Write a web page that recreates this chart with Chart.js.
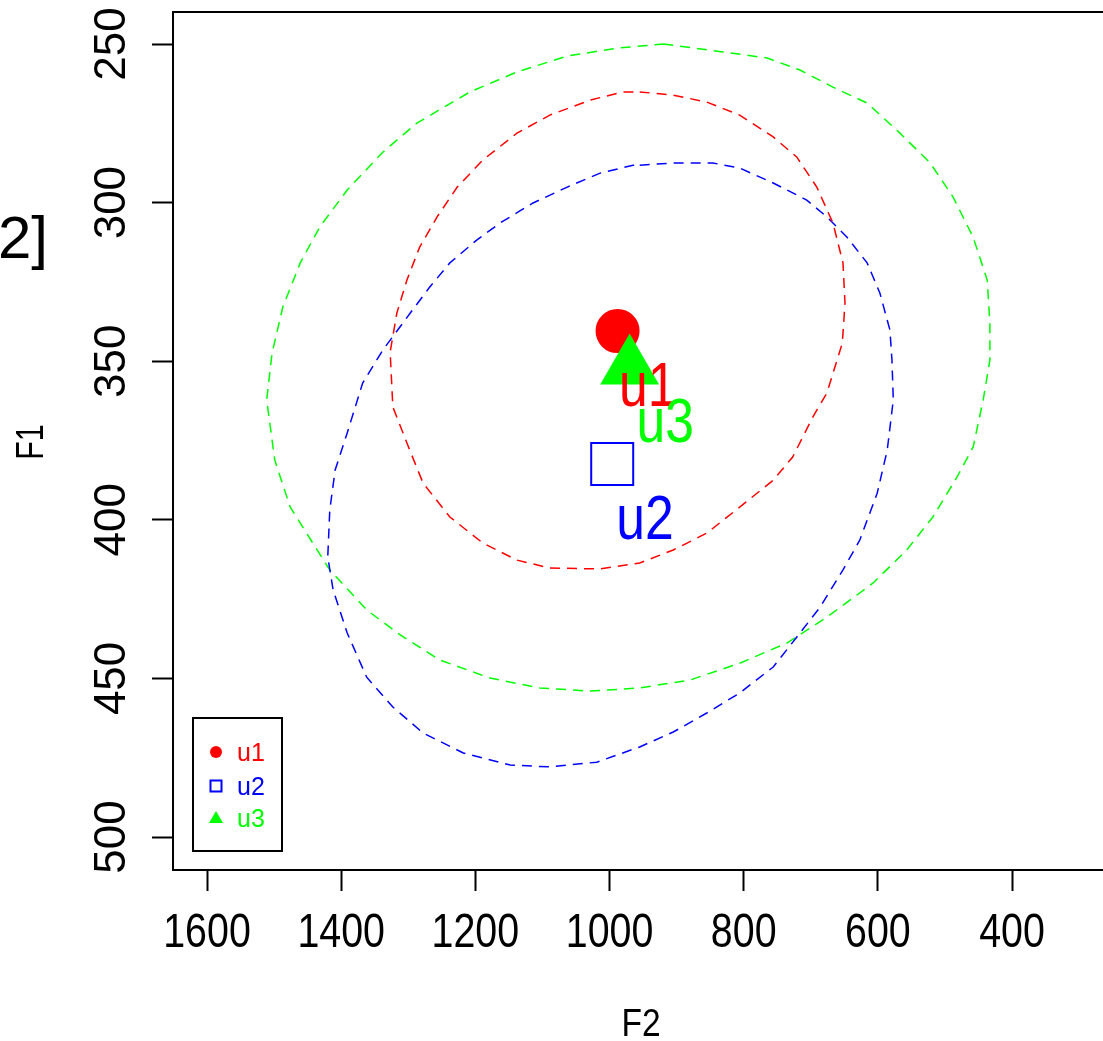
<!DOCTYPE html>
<html>
<head>
<meta charset="utf-8">
<script src="https://cdn.jsdelivr.net/npm/chart.js@4.4.1/dist/chart.umd.min.js"></script>
<style>
html, body { margin: 0; padding: 0; background: #fff; overflow: hidden; }
canvas { display: block; }
</style>
</head>
<body>
<canvas id="vowelChart" width="1103" height="1041"></canvas>
<script>
// group names and colours
var groups = ['u1', 'u2', 'u3'];
var colors = ['#FF0000', '#0000FF', '#00FF00'];

// group means (F2, F1)
var meanF2 = [988, 996, 970];
var meanF1 = [340.5, 382.4, 352];

// where the group names are written
var labelF2 = [943, 947, 917];
var labelF1 = [357, 399, 368.5];

// ellipse outlines, one polygon per group
var u1EllipseF2 = [955, 905, 855, 806, 756, 721, 691, 667, 652, 649, 653, 676, 697, 727, 756, 806, 855, 905, 955, 1014,
	1089, 1138, 1189, 1238, 1278, 1302, 1323, 1327, 1317, 1302, 1283, 1257, 1227, 1189, 1138, 1089, 1029, 980];
var u1EllipseF1 = [265.1, 266.1, 268.3, 272.4, 279.3, 285.6, 295.1, 306.4, 319.0, 331.7, 344.3, 360.0, 367.6, 380.2, 387.5, 396.0, 404.2, 409.5, 413.6, 415.5,
	415.2, 412.7, 407.3, 399.1, 388.4, 375.8, 364.4, 347.1, 334.8, 324.4, 314.0, 304.5, 295.1, 286.6, 278.1, 272.4, 267.7, 265.1];

var u2EllipseF2 = [955, 905, 846, 806, 756, 706, 676, 646, 616, 597, 582, 579, 577, 586, 601, 627, 652, 686, 721, 756,
	806, 855, 905, 955, 1019, 1089, 1148, 1218, 1278, 1323, 1362, 1391, 1412, 1420, 1417, 1409, 1391, 1368, 1338, 1297,
	1268, 1238, 1198, 1163, 1114, 1063, 1014, 965];
var u2EllipseF1 = [288.2, 287.5, 287.5, 289.1, 293.8, 299.2, 304.5, 310.9, 319.0, 328.5, 340.2, 349.6, 362.2, 378.0, 391.6, 406.4, 415.8, 427.5, 437.0, 446.4,
	454.6, 460.9, 466.9, 471.6, 476.4, 477.9, 477.3, 473.5, 467.2, 459.0, 449.6, 435.7, 422.1, 411.7, 396.9, 384.3, 372.6, 356.9, 346.5, 334.8,
	326.6, 319.0, 311.8, 306.4, 300.1, 295.1, 290.7, 288.2];

var u3EllipseF2 = [920, 831, 765, 716, 667, 616, 567, 522, 488, 458, 437, 433, 433, 443, 458, 482, 518, 557, 607, 676,
	735, 806, 880, 955, 1029, 1104, 1178, 1253, 1312, 1362, 1417, 1476, 1499, 1511, 1503, 1487, 1461, 1432, 1391, 1338,
	1287, 1208, 1138, 1063, 989];
var u3EllipseF1 = [250.0, 252.5, 254.4, 258.2, 263.6, 268.6, 278.1, 287.5, 298.2, 310.9, 324.4, 338.0, 349.6, 362.2, 377.1, 386.5, 399.1, 409.5, 419.9, 430.7,
	438.8, 445.2, 450.5, 453.0, 454.0, 453.0, 449.9, 444.2, 436.3, 428.4, 415.8, 396.0, 381.2, 362.2, 347.4, 332.9, 319.0, 307.7, 296.0, 284.1,
	274.9, 265.1, 258.8, 253.8, 251.3];

// axes
var f2Ticks = [1600, 1400, 1200, 1000, 800, 600, 400];
var f1Ticks = [250, 300, 350, 400, 450, 500];
var f2Range = [264.4, 1650.7];
var f1Range = [239.9, 510.4];
var f2Title = 'F2';
var f1Title = 'F1';

var SANS = '"Liberation Sans", Arial, sans-serif';

function outline(xs, ys) {
	var pts = [];
	for (var i = 0; i < xs.length; i++) {
		pts.push({ x : xs[i], y : ys[i] });
	}
	pts.push({ x : xs[0], y : ys[0] });
	return pts;
}

// text squeezed along its own direction (rot in radians)
function squeezedText(ctx, txt, x, y, size, sx, rot, dy) {
	ctx.save();
	ctx.translate(x, y);
	if (rot) ctx.rotate(rot);
	ctx.scale(sx, 1);
	ctx.font = size + 'px ' + SANS;
	ctx.textAlign = 'center';
	ctx.textBaseline = 'alphabetic';
	ctx.fillText(txt, 0, dy);
	ctx.restore();
}

var ellipses = [ outline(u1EllipseF2, u1EllipseF1), outline(u2EllipseF2, u2EllipseF1), outline(u3EllipseF2, u3EllipseF1) ];
var markers = [
	{ style : 'circle', radius : 21, fill : colors[0], order : 3 },
	{ style : 'rect', radius : 29.7, fill : 'rgba(0,0,0,0)', order : 2 },
	{ style : 'triangle', radius : 32, fill : colors[2], order : 1 }
];

var datasets = [];
for (var g = 0; g < groups.length; g++) {
	datasets.push({
		label : groups[g] + ' ellipse',
		data : ellipses[g],
		showLine : true,
		fill : false,
		tension : 0,
		borderColor : colors[g],
		borderWidth : 1.5,
		borderDash : [ 10, 7 ],
		pointRadius : 0,
		order : 10
	});
}
for (var g = 0; g < groups.length; g++) {
	datasets.push({
		label : groups[g],
		data : [ { x : meanF2[g], y : meanF1[g] } ],
		pointStyle : markers[g].style,
		pointRadius : markers[g].radius,
		backgroundColor : markers[g].fill,
		borderColor : colors[g],
		borderWidth : 2,
		order : markers[g].order
	});
}

// box, tick labels, axis titles, group names, legend
var extras = {
	id : 'extras',
	afterDatasetsDraw : function(chart) {
		var ctx = chart.ctx;
		var xs = chart.scales.x, ys = chart.scales.y;
		for (var i = 0; i < groups.length; i++) {
			ctx.fillStyle = colors[i];
			squeezedText(ctx, groups[i], xs.getPixelForValue(labelF2[i]), ys.getPixelForValue(labelF1[i]), 63, 0.82, 0, 22.5);
		}
	},
	afterDraw : function(chart) {
		var ctx = chart.ctx;
		var a = chart.chartArea;
		var xs = chart.scales.x, ys = chart.scales.y;
		ctx.save();
		ctx.strokeStyle = '#000';
		ctx.lineWidth = 2;
		ctx.beginPath();
		ctx.moveTo(chart.width + 2, a.top);
		ctx.lineTo(a.left, a.top);
		ctx.lineTo(a.left, a.bottom);
		ctx.lineTo(chart.width + 2, a.bottom);
		ctx.stroke();

		ctx.fillStyle = '#000';
		// F2 tick labels
		xs.ticks.forEach(function(t) {
			squeezedText(ctx, String(t.value), xs.getPixelForValue(t.value), a.bottom + 43, 48, 0.82, 0, 34.4);
		});
		// F1 tick labels read bottom to top
		ys.ticks.forEach(function(t) {
			squeezedText(ctx, String(t.value), 109, ys.getPixelForValue(t.value), 44, 1, -Math.PI / 2, 16);
		});
		squeezedText(ctx, f2Title, (a.left + chart.width) / 2 + 3, 1008, 39, 0.86, 0, 28);
		squeezedText(ctx, f1Title, 29.5, (a.top + a.bottom) / 2 + 1, 38, 0.8, -Math.PI / 2, 13.6);

		// legend
		ctx.lineWidth = 2;
		ctx.strokeRect(193, 718, 89, 133);
		var rowY = [ 752, 786, 818 ];
		ctx.font = '25px ' + SANS;
		ctx.textAlign = 'left';
		ctx.textBaseline = 'alphabetic';
		for (var i = 0; i < groups.length; i++) {
			var y = rowY[i];
			ctx.fillStyle = colors[i];
			ctx.strokeStyle = colors[i];
			if (i == 0) {
				ctx.beginPath();
				ctx.arc(216, y, 6, 0, Math.PI * 2);
				ctx.fill();
			} else if (i == 1) {
				ctx.lineWidth = 2;
				ctx.strokeRect(210.5, y - 5.5, 11, 11);
			} else {
				ctx.beginPath();
				ctx.moveTo(216, y - 7);
				ctx.lineTo(223, y + 5);
				ctx.lineTo(209, y + 5);
				ctx.closePath();
				ctx.fill();
			}
			ctx.fillText(groups[i], 237, y + 9);
		}

		ctx.fillStyle = '#000';
		ctx.font = '60px ' + SANS;
		ctx.textAlign = 'left';
		ctx.fillText('2]', -2, 258);
		ctx.restore();
	}
};

var chart = new Chart(document.getElementById('vowelChart'), {
	type : 'scatter',
	data : { datasets : datasets },
	options : {
		responsive : false,
		devicePixelRatio : 1,
		animation : false,
		layout : { autoPadding : false, padding : { top : 12, left : 0, right : 0, bottom : 0 } },
		plugins : { legend : { display : false }, tooltip : { enabled : false } },
		scales : {
			x : {
				type : 'linear',
				position : 'bottom',
				reverse : true,
				min : f2Range[0],
				max : f2Range[1],
				afterBuildTicks : function(scale) {
					scale.ticks = f2Ticks.map(function(v) { return { value : v }; });
				},
				afterFit : function(scale) { scale.height = 171; },
				border : { display : false },
				grid : { drawOnChartArea : false, tickLength : 21, tickColor : '#000', tickWidth : 2 },
				ticks : { display : false },
				title : { display : false }
			},
			y : {
				type : 'linear',
				position : 'left',
				reverse : true,
				min : f1Range[0],
				max : f1Range[1],
				afterBuildTicks : function(scale) {
					scale.ticks = f1Ticks.map(function(v) { return { value : v }; });
				},
				afterFit : function(scale) { scale.width = 173; },
				border : { display : false },
				grid : { drawOnChartArea : false, tickLength : 21, tickColor : '#000', tickWidth : 2 },
				ticks : { display : false },
				title : { display : false }
			}
		}
	},
	plugins : [ extras ]
});
</script>
</body>
</html>
